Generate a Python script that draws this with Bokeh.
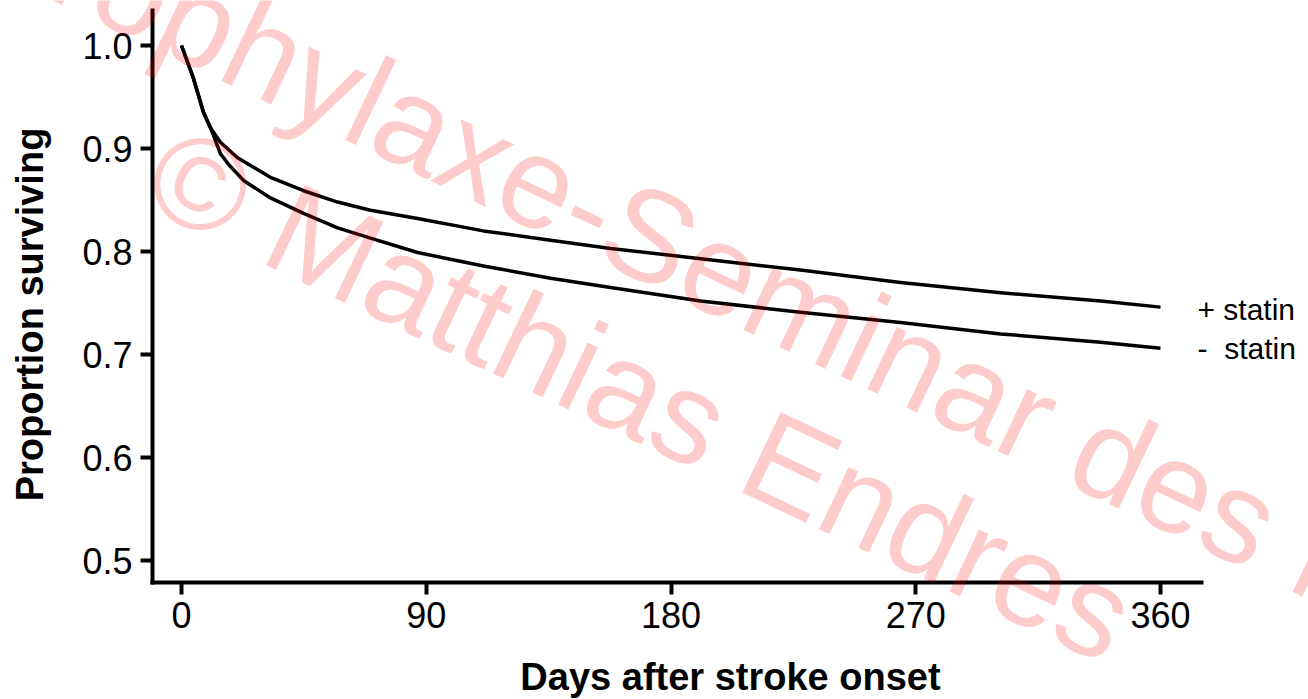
from bokeh.plotting import figure
from bokeh.models import Range1d, FixedTicker, Label, CustomJSTickFormatter
from bokeh.embed import file_html
from bokeh.resources import INLINE
import math

# ---- data ----
days_plus = [0, 4.4, 8.1, 10.7, 14.3, 20.6, 32.7, 44.9, 57.4, 69.5, 86.8, 111, 135.7, 157.8, 190.9, 227.6, 264.4, 301.2, 338, 360]
surv_plus = [1.0, 0.968, 0.935, 0.920, 0.906, 0.891, 0.872, 0.859, 0.848, 0.840, 0.832, 0.820, 0.811, 0.803, 0.793, 0.782, 0.770, 0.760, 0.752, 0.746]

days_minus = [0, 4.4, 8.1, 10.7, 14.3, 17.5, 22.8, 32.7, 44.9, 57.4, 69.5, 86.8, 111, 135.7, 157.8, 190.9, 227.6, 264.4, 301.2, 338, 360]
surv_minus = [1.0, 0.968, 0.935, 0.920, 0.895, 0.884, 0.869, 0.852, 0.837, 0.823, 0.813, 0.799, 0.786, 0.774, 0.765, 0.752, 0.741, 0.731, 0.720, 0.712, 0.706]

x_ticks = [0, 90, 180, 270, 360]
y_ticks = [0.5, 0.6, 0.7, 0.8, 0.9, 1.0]
series_labels = ["+ statin", "-\u00a0\u00a0statin"]
x_title = "Days after stroke onset"
y_title = "Proportion surviving"
watermark_lines = ["prophylaxe-Seminar des M", "\u00a9 Matthias Endres"]

# ---- layout (pixels) ----
W, H = 1308, 699
KX = 979.0 / 360.0      # px per day
PX0 = 181.0             # px of day 0
KY = 1030.0             # px per unit of proportion
PY1 = 45.0              # px of proportion 1.0

def px_x(px):
    return (px - PX0) / KX

def px_y(py):
    return 1.0 - (py - PY1) / KY

X_START, X_END = px_x(0), px_x(W)
Y_START, Y_END = px_y(H), px_y(0)

p = figure(width=W, height=H, x_range=Range1d(X_START, X_END), y_range=Range1d(Y_START, Y_END),
           output_backend="svg", toolbar_location=None,
           min_border_left=0, min_border_right=0, min_border_top=0, min_border_bottom=0)
p.background_fill_color = "white"
p.border_fill_color = "white"
p.outline_line_color = None
p.xgrid.visible = False
p.ygrid.visible = False

FONT = "Liberation Sans"
for ax in (p.xaxis[0], p.yaxis[0]):
    ax.axis_line_width = 4
    ax.axis_line_color = "black"
    ax.major_tick_line_width = 4
    ax.major_tick_line_color = "black"
    ax.major_tick_out = 12
    ax.major_tick_in = 0
    ax.minor_tick_line_color = None
    ax.major_label_text_font = FONT
    ax.major_label_text_font_size = "36px"
    ax.major_label_text_color = "black"

p.xaxis.ticker = FixedTicker(ticks=x_ticks)
p.yaxis.ticker = FixedTicker(ticks=y_ticks)
p.yaxis.formatter = CustomJSTickFormatter(code="return tick.toFixed(1);")
p.xaxis.major_label_standoff = 8
p.yaxis.major_label_standoff = 8
p.yaxis.fixed_location = px_x(152)
p.xaxis.fixed_location = px_y(581.5)
p.yaxis.bounds = (px_y(583.5), px_y(8))
p.xaxis.bounds = (px_x(150), px_x(1203))

p.line(days_plus, surv_plus, line_color="black", line_width=3.5, line_join="round")
p.line(days_minus, surv_minus, line_color="black", line_width=3.5, line_join="round")

# Bokeh anchors "alphabetic" text about 0.35 em above the glyph baseline
def anchor(bx, by, size, ang):
    up = (-math.sin(ang), -math.cos(ang))  # screen direction toward glyph tops
    return bx + 0.35 * size * up[0], by + 0.35 * size * up[1]

def add_text(txt, bx, by, size, ang=0.0, align="left", color="black", alpha=1.0, style="normal"):
    ax_, ay_ = anchor(bx, by, size, ang)
    p.add_layout(Label(x=px_x(ax_), y=px_y(ay_), text=txt, text_font=FONT,
                       text_font_size=f"{size}px", text_font_style=style,
                       text_color=color, text_alpha=alpha, angle=ang,
                       text_align=align, text_baseline="alphabetic"))

# axis titles
add_text(x_title, 730, 690, 38, 0.0, "center", style="bold")
add_text(y_title, 43, 314, 38, math.pi / 2, "center", style="bold")

# series labels at the curve ends
for lab, by in zip(series_labels, [319, 358]):
    add_text(lab, 1197, by, 30)

# watermark
wang = -math.radians(25.5)
for txt, (bx, by) in zip(watermark_lines, [(-22, -35), (137, 204)]):
    add_text(txt, bx, by, 130, wang, "left", color="#FF0000", alpha=0.2)

open("out.html", "w").write(file_html(p, INLINE))
